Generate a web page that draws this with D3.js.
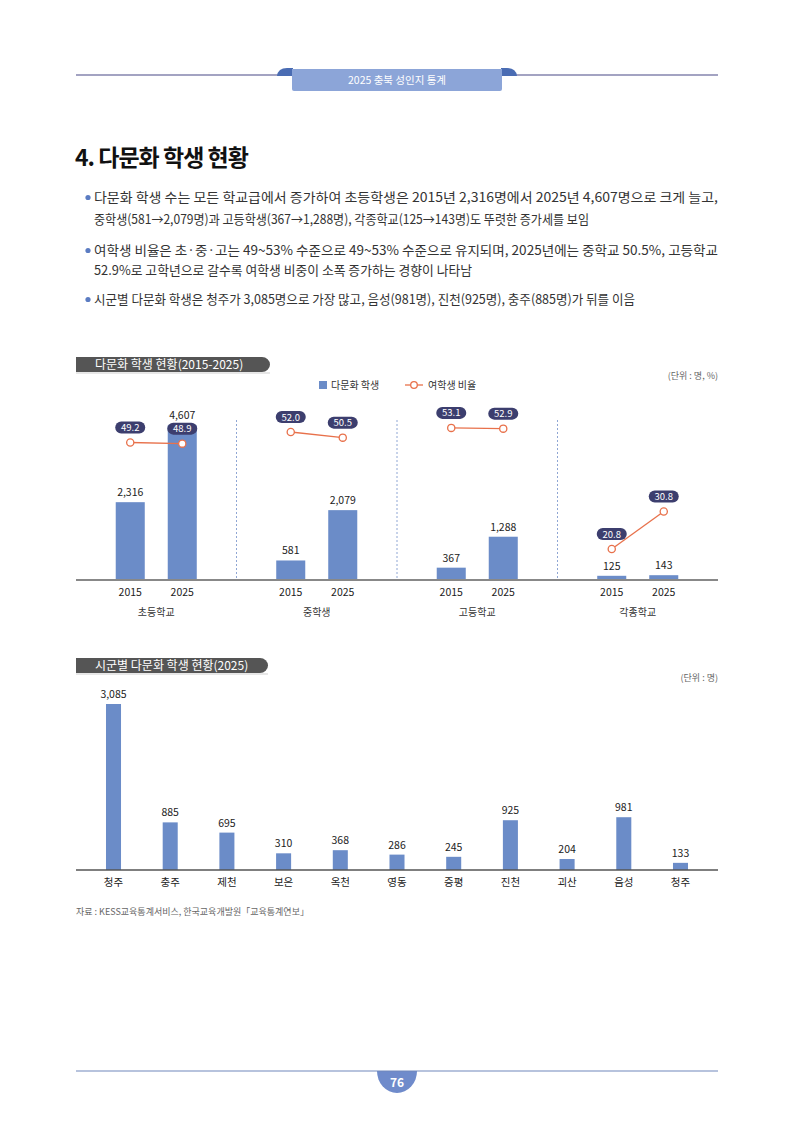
<!DOCTYPE html>
<html><head><meta charset="utf-8">
<script src="https://cdn.jsdelivr.net/npm/d3@7"></script>
<style>
html,body{margin:0;padding:0;background:#fff;}
svg{display:block;font-family:"Noto Sans CJK KR","Noto Sans",sans-serif;}
</style></head>
<body>
<svg id="page" width="794" height="1123"></svg>
<script>
// ---------- data ----------
const groups = ['초등학교','중학생','고등학교','각종학교'];
const years = ['2015','2025'];
const students2015 = [2316, 581, 367, 125];
const students2025 = [4607, 2079, 1288, 143];
const female2015 = [49.2, 52.0, 53.1, 20.8];
const female2025 = [48.9, 50.5, 52.9, 30.8];
const regions = ['청주','충주','제천','보은','옥천','영동','증평','진천','괴산','음성','청주'];
const regionValues = [3085, 885, 695, 310, 368, 286, 245, 925, 204, 981, 133];

const bullets = [
  ['다문화 학생 수는 모든 학교급에서 증가하여 초등학생은 2015년 2,316명에서 2025년 4,607명으로 크게 늘고,',
   '중학생(581→2,079명)과 고등학생(367→1,288명), 각종학교(125→143명)도 뚜렷한 증가세를 보임'],
  ['여학생 비율은 초·중·고는 49~53% 수준으로 49~53% 수준으로 유지되며, 2025년에는 중학교 50.5%, 고등학교',
   '52.9%로 고학년으로 갈수록 여학생 비중이 소폭 증가하는 경향이 나타남'],
  ['시군별 다문화 학생은 청주가 3,085명으로 가장 많고, 음성(981명), 진천(925명), 충주(885명)가 뒤를 이음']
];

// ---------- styles ----------
const BAR = '#6b8cc8', LINE = '#e8714b', PILL = '#3c3e6e', TXT = '#333';
const svg = d3.select('#page');
const fmt = d3.format(',');

// ---------- header ----------
svg.append('line').attr('x1',76).attr('x2',718).attr('y1',75).attr('y2',75)
  .attr('stroke','#a3a3c2').attr('stroke-width',2);
svg.append('path').attr('d','M277,76 Q278,68 287,68 H293 V76 Z').attr('fill','#4a6cb3');
svg.append('path').attr('d','M517,76 Q516,68 507,68 H501 V76 Z').attr('fill','#4a6cb3');
svg.append('path').attr('d','M292,69 H502 V89 Q502,91 500,91 H294 Q292,91 292,89 Z').attr('fill','#8ca5d8');
svg.append('text').attr('x',397).attr('y',84).attr('text-anchor','middle')
  .attr('fill','#fff').attr('font-size',10.5).text('2025 충북 성인지 통계');

// ---------- title ----------
svg.append('text').attr('x',75).attr('y',166).attr('font-size',23).attr('font-weight',700)
  .attr('fill','#111').attr('letter-spacing',-1).text('4. 다문화 학생 현황');

// ---------- bullets ----------
const bulletY = [[202,224],[255,275],[304]];
const lineLens = [[624, 495],[624, 378],[541]];
bullets.forEach((b,i)=>{
  svg.append('circle').attr('cx',88).attr('cy',bulletY[i][0]-4.5).attr('r',2.6).attr('fill','#5b7cc2');
  b.forEach((ln,j)=>{
    svg.append('text').attr('x',94).attr('y',bulletY[i][j]).attr('font-size',13)
      .attr('fill',TXT).attr('textLength',lineLens[i][j]).attr('lengthAdjust','spacingAndGlyphs')
      .text(ln);
  });
});

// ---------- section title boxes ----------
function sectionTitle(y, w, label){
  svg.append('line').attr('x1',76).attr('x2',76+w).attr('y1',y+16).attr('y2',y+16)
    .attr('stroke','#cfcfcf').attr('stroke-width',1);
  svg.append('path').attr('d',`M76,${y} H${76+w-8} A8,7.5 0 0 1 ${76+w-8},${y+15} H76 Z`).attr('fill','#555');
  svg.append('text').attr('x',95).attr('y',y+11.5).attr('font-size',12).attr('fill','#fff').text(label);
}
sectionTitle(357, 194, '다문화 학생 현황(2015-2025)');
sectionTitle(658, 192, '시군별 다문화 학생 현황(2025)');

svg.append('text').attr('x',718).attr('y',379).attr('text-anchor','end').attr('font-size',9)
  .attr('fill','#666').text('(단위 : 명, %)');
svg.append('text').attr('x',718).attr('y',681).attr('text-anchor','end').attr('font-size',9)
  .attr('fill','#666').text('(단위 : 명)');

// ---------- legend ----------
svg.append('rect').attr('x',319).attr('y',381).attr('width',8).attr('height',8).attr('fill',BAR);
svg.append('text').attr('x',331).attr('y',389).attr('font-size',10).attr('fill',TXT).text('다문화 학생');
svg.append('line').attr('x1',405).attr('x2',423).attr('y1',385).attr('y2',385).attr('stroke',LINE).attr('stroke-width',1.3);
svg.append('circle').attr('cx',414).attr('cy',385).attr('r',3.3).attr('fill','#fff').attr('stroke',LINE).attr('stroke-width',1.3);
svg.append('text').attr('x',428).attr('y',389).attr('font-size',10).attr('fill',TXT).text('여학생 비율');

// ---------- chart 1 ----------
const base1 = 580;
const x0 = d3.scaleBand().domain(groups).range([76,718]).padding(0);
const x1 = d3.scaleBand().domain(years).range([0,x0.bandwidth()]).paddingInner(0.442).paddingOuter(0.764);
const y1 = d3.scaleLinear().domain([0,5000]).range([base1, base1-168]);
const yR = d3.scaleLinear().domain([0,60]).range([627,402]);

const rows = groups.map((g,i)=>({g, vals:[students2015[i],students2025[i]], fem:[female2015[i],female2025[i]]}));
const c1 = svg.append('g');

// separators
groups.slice(1).forEach(g=>{
  c1.append('line').attr('x1',x0(g)).attr('x2',x0(g)).attr('y1',420).attr('y2',base1-2)
    .attr('stroke','#8fa6d4').attr('stroke-width',1).attr('stroke-dasharray','2,2');
});

const gg = c1.selectAll('g.grp').data(rows).join('g').attr('class','grp')
  .attr('transform',d=>`translate(${x0(d.g)},0)`);
gg.selectAll('rect').data(d=>d.vals.map((v,k)=>({v,yr:years[k]}))).join('rect')
  .attr('x',d=>x1(d.yr)).attr('width',x1.bandwidth())
  .attr('y',d=>y1(d.v)).attr('height',d=>base1-y1(d.v)).attr('fill',BAR);
gg.selectAll('text.val').data(d=>d.vals.map((v,k)=>({v,yr:years[k]}))).join('text').attr('class','val')
  .attr('x',d=>x1(d.yr)+x1.bandwidth()/2).attr('y',d=>y1(d.v)-6)
  .attr('text-anchor','middle').attr('font-size',10.5).attr('fill','#222').text(d=>fmt(d.v));

// axis
const xAxis1 = c1.append('g').attr('transform',`translate(0,${base1})`);
xAxis1.append('line').attr('x1',76).attr('x2',718).attr('stroke','#888').attr('stroke-width',2);
rows.forEach(r=>{
  const ax = d3.axisBottom(x1).tickSize(0).tickPadding(9);
  const a = xAxis1.append('g').attr('transform',`translate(${x0(r.g)},0)`).call(ax);
  a.select('.domain').remove();
  a.selectAll('text').attr('font-size',10.5).attr('fill','#222').attr('font-family','"Noto Sans CJK KR",sans-serif');
});
c1.selectAll('text.grpLbl').data(groups).join('text').attr('class','grpLbl')
  .attr('x',g=>x0(g)+x0.bandwidth()/2).attr('y',616).attr('text-anchor','middle')
  .attr('font-size',10).attr('fill','#333').text(g=>g);

// ratio lines
const lineGen = d3.line().x(d=>d.x).y(d=>yR(d.v));
gg.each(function(d){
  const g = d3.select(this);
  const pts = d.fem.map((v,k)=>({v, x:x1(years[k])+x1.bandwidth()/2}));
  g.append('path').attr('d',lineGen(pts)).attr('fill','none').attr('stroke',LINE).attr('stroke-width',1.3);
  pts.forEach(p=>{
    g.append('circle').attr('cx',p.x).attr('cy',yR(p.v)).attr('r',3.6)
      .attr('fill','#fff').attr('stroke',LINE).attr('stroke-width',1.3);
    g.append('rect').attr('x',p.x-15).attr('y',yR(p.v)-21).attr('width',30).attr('height',12)
      .attr('rx',6).attr('fill',PILL);
    g.append('text').attr('x',p.x).attr('y',yR(p.v)-11.5).attr('text-anchor','middle')
      .attr('font-size',9.5).attr('fill','#fff').text(d3.format('.1f')(p.v));
  });
});

// ---------- chart 2 ----------
const base2 = 870;
const idx = regions.map((r,i)=>i);
const xr = d3.scaleBand().domain(idx).range([76,718]).paddingInner(0.735).paddingOuter(0.529);
const yr2 = d3.scaleLinear().domain([0,3085]).range([base2, 704]);
const c2 = svg.append('g');
c2.selectAll('rect').data(idx).join('rect')
  .attr('x',i=>xr(i)).attr('width',xr.bandwidth())
  .attr('y',i=>yr2(regionValues[i])).attr('height',i=>base2-yr2(regionValues[i])).attr('fill',BAR);
c2.selectAll('text.val').data(idx).join('text').attr('class','val')
  .attr('x',i=>xr(i)+xr.bandwidth()/2).attr('y',i=>yr2(regionValues[i])-6)
  .attr('text-anchor','middle').attr('font-size',10.5).attr('fill','#222').text(i=>fmt(regionValues[i]));
const ax2 = c2.append('g').attr('transform',`translate(0,${base2})`)
  .call(d3.axisBottom(xr).tickSize(0).tickPadding(9).tickFormat(i=>regions[i]));
ax2.select('.domain').remove();
ax2.selectAll('text').attr('font-size',10.5).attr('fill','#222').attr('font-family','"Noto Sans CJK KR",sans-serif');
ax2.append('line').attr('x1',76).attr('x2',718).attr('stroke','#555').attr('stroke-width',1.3);

svg.append('text').attr('x',76).attr('y',915).attr('font-size',9).attr('fill','#666')
  .text('자료 : KESS교육통계서비스, 한국교육개발원「교육통계연보」');

// ---------- footer ----------
svg.append('path').attr('d','M377,1071 A20,22 0 0 0 417,1071 Z').attr('fill','#6f8bcb');
svg.append('line').attr('x1',76).attr('x2',718).attr('y1',1071).attr('y2',1071)
  .attr('stroke','#7088bb').attr('stroke-width',1.2);
svg.append('text').attr('x',397).attr('y',1087).attr('text-anchor','middle').attr('font-size',12)
  .attr('font-weight',700).attr('fill','#fff').text('76');
</script>
</body></html>
